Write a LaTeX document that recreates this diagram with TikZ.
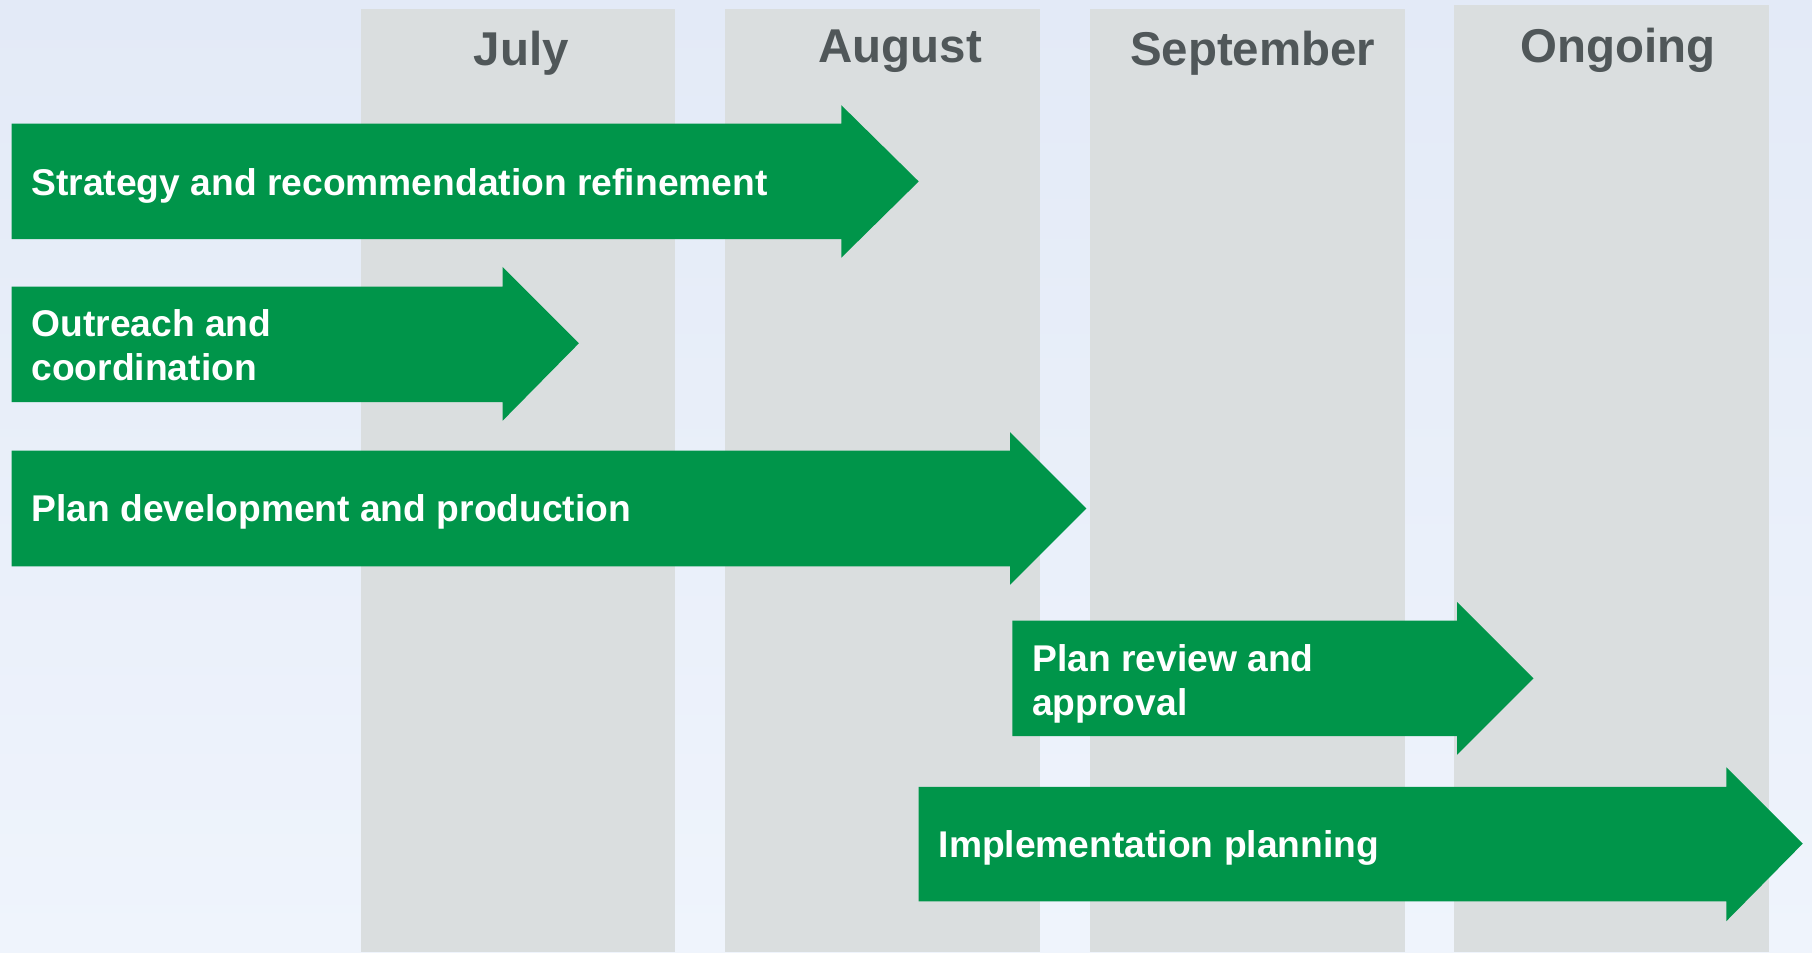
\documentclass[tikz,border=0pt]{standalone}
\usepackage{fontspec}
\setmainfont{Liberation Sans}
\definecolor{bgtop}{HTML}{E3EAF7}
\definecolor{bgbot}{HTML}{EFF4FC}
\definecolor{colgray}{HTML}{DADEDF}
\definecolor{hdrgray}{HTML}{505759}
\definecolor{bargreen}{HTML}{00954A}
\tikzset{
  colbox/.style={fill=colgray, draw=none},
  hdr/.style={anchor=base, inner sep=0pt, text=hdrgray, font=\fontsize{29.2pt}{34pt}\selectfont\bfseries},
  bar/.style={fill=bargreen, draw=none},
  bartext/.style={anchor=west, inner sep=0pt, text=white, align=left, font=\fontsize{22.9pt}{27pt}\selectfont\bfseries},
}
\begin{document}
\begin{tikzpicture}[x=0.025cm, y=-0.025cm]
\useasboundingbox (0,0) rectangle (1568,824);
\shade[top color=bgtop, bottom color=bgbot] (0,0) rectangle (1568,824);
% columns
\fill[colbox] (312,8) rectangle (584,824);
\fill[colbox] (627,8) rectangle (900,824);
\fill[colbox] (943,8) rectangle (1216,824);
\fill[colbox] (1258,4) rectangle (1531,824);
% headers
\node[hdr] (hjul) at (451,57) {July};
\node[hdr] (haug) at (779,54) {August};
\node[hdr] (hsep) at (1084,57) {September};
\node[hdr] (hong) at (1400,54) {Ongoing};
% arrows
\fill[bar] (10,107) -- (728,107) -- (728,91) -- (795,157) -- (728,223) -- (728,207) -- (10,207) -- cycle;
\fill[bar] (10,248) -- (435,248) -- (435,231) -- (501,297) -- (435,364) -- (435,348) -- (10,348) -- cycle;
\fill[bar] (10,390) -- (874,390) -- (874,374) -- (940,440) -- (874,506) -- (874,490) -- (10,490) -- cycle;
\fill[bar] (876,537) -- (1261,537) -- (1261,521) -- (1327,587) -- (1261,653) -- (1261,637) -- (876,637) -- cycle;
\fill[bar] (795,681) -- (1494,681) -- (1494,664) -- (1560,730) -- (1494,797) -- (1494,780) -- (795,780) -- cycle;
% labels
\node[bartext] (t1) at (27,161) {Strategy and recommendation refinement};
\node[bartext] (t2) at (27,299) {Outreach and\\coordination};
\node[bartext] (t3) at (27,443) {Plan development and production};
\node[bartext] (t4) at (893,592) {Plan review and\\approval};
\node[bartext] (t5) at (812,734) {Implementation planning};
\end{tikzpicture}
\end{document}
